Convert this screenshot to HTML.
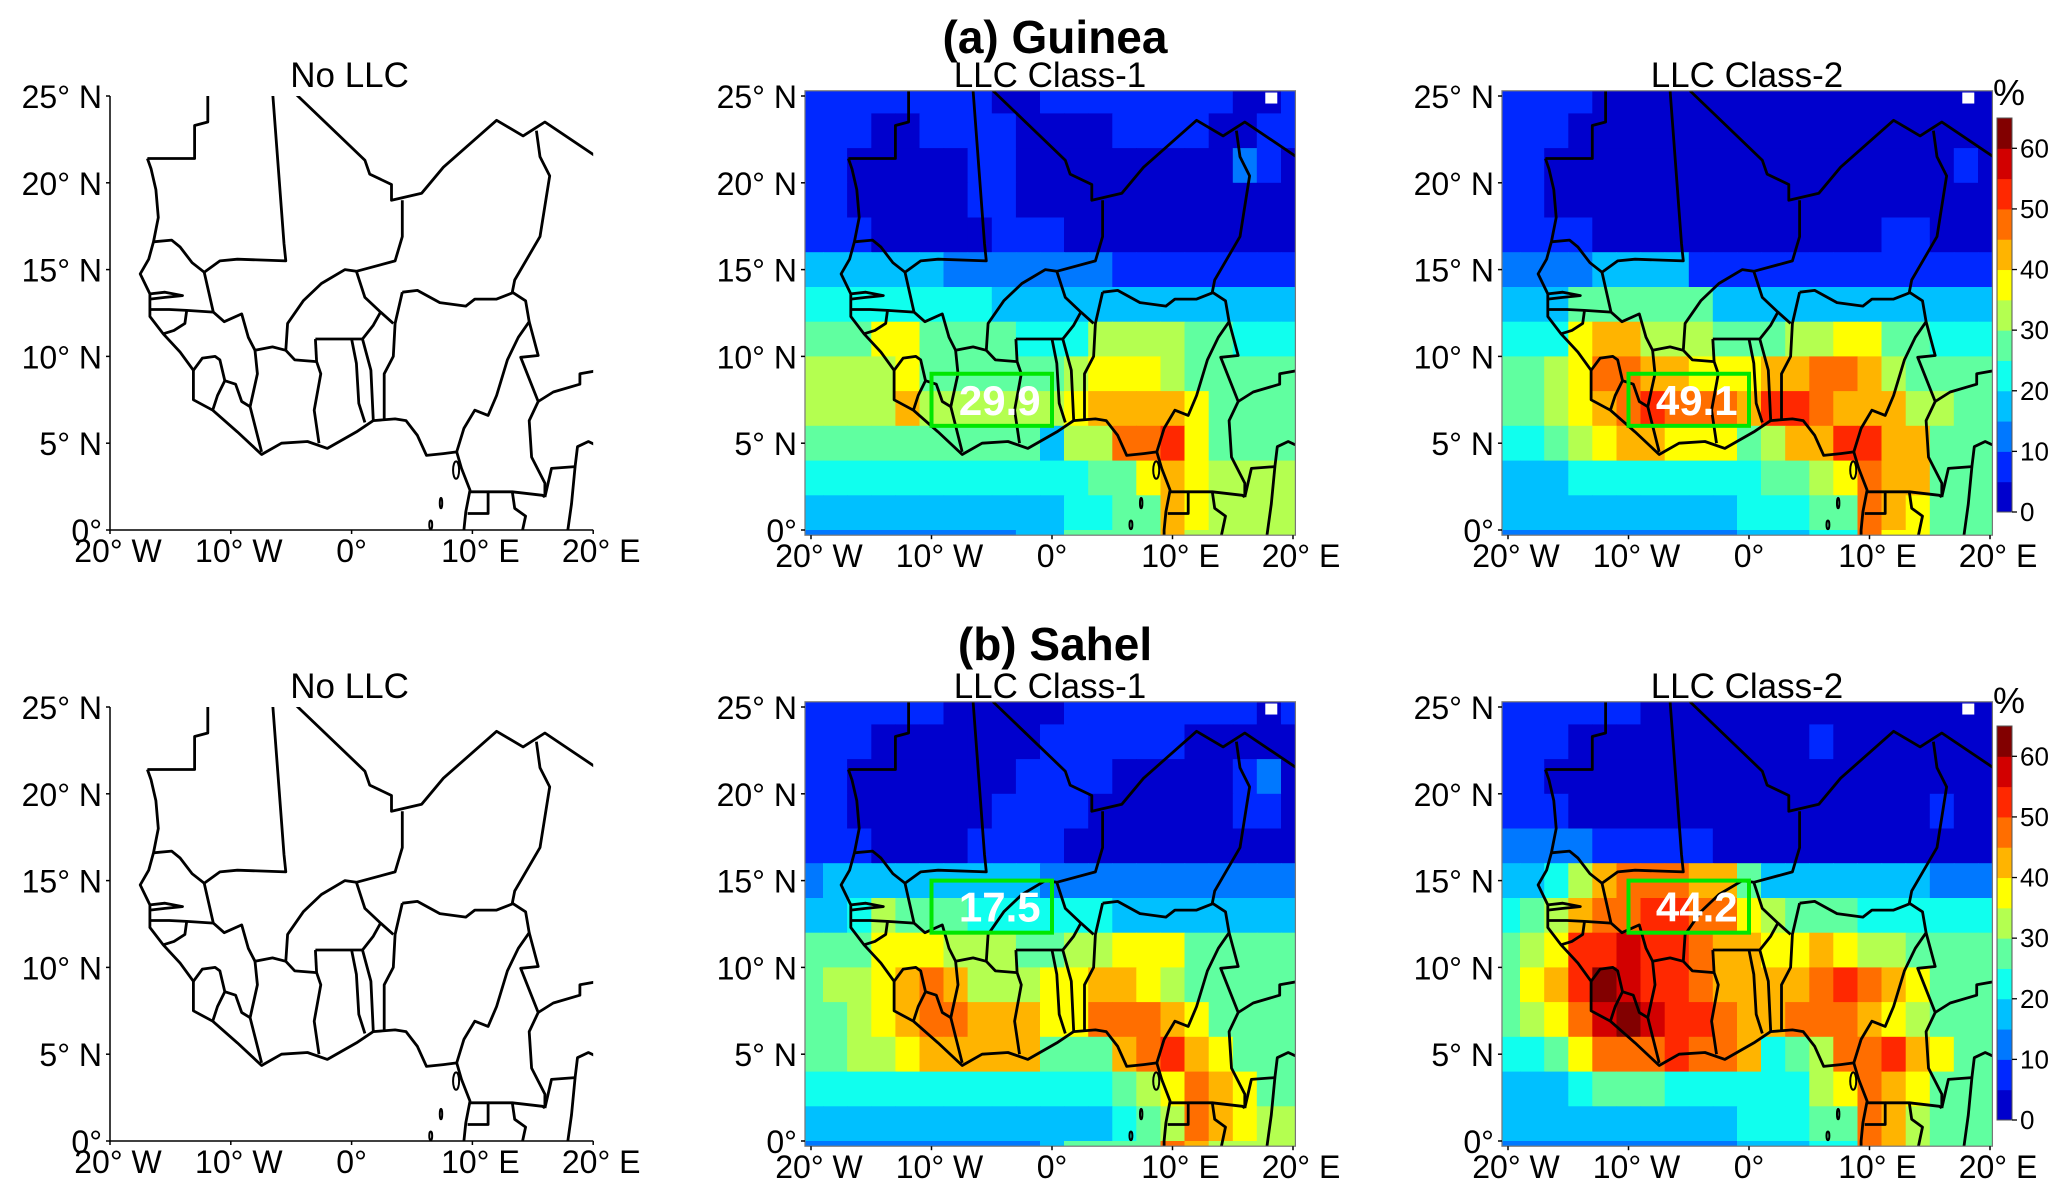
<!DOCTYPE html>
<html><head><meta charset="utf-8"><style>
html,body{margin:0;padding:0;background:#fff;}
svg{display:block;font-family:"Liberation Sans",Arial,sans-serif;}
</style></head><body>
<svg id="fig" width="2067" height="1194" viewBox="0 0 2067 1194" xmlns="http://www.w3.org/2000/svg"></svg>
<script>
// ---- data ----
// Level codes per 2-degree cell (rows north->south, lat bands 24-26 ... -2-0; cols lon -20..20 step 2)
// code k => value k*5+2.5 (%)
const lonCenters=[-20,-18,-16,-14,-12,-10,-8,-6,-4,-2,0,2,4,6,8,10,12,14,16,18,20];
const latTops=[26,24,22,20,18,16,14,12,10,8,6,4,2,0];
const guineaClass1=[
"111111110011111111001",
"111001111000011110011",
"110000011000000000210",
"110000011000000000000",
"111000001110000000000",
"333333222222211111111",
"444444443333333333333",
"555775555444666655444",
"666675555556777655555",
"666686666667888875555",
"555555555536699a75555",
"444444444444557876666",
"333333333334455876666",
"222222222335555866666"];
const guineaClass2=[
"111100000000000000000",
"111000000000000000000",
"110000000000000000010",
"110000000000000000000",
"111100000000000011000",
"222233331111111111111",
"333555555333333333333",
"444788666555667755444",
"556799887778899865555",
"556789a9998aa98886655",
"44567887775688aa88555",
"333444444445567988555",
"333333333344455987555",
"222222222233344977555"];
const sahelClass1=[
"111111000001111111101",
"111000000011111100000",
"110000000111100000120",
"110000001111000000110",
"111000011110000000000",
"233333333322222222222",
"334655544444433333333",
"555777666556677755555",
"566789866677887655555",
"556789988877999875555",
"556678888855589a87555",
"444444444444456798755",
"333333333333345698766",
"222222222235555986666"];
const sahelClass2=[
"111111000000000000000",
"111000000000010000000",
"110000000000000000000",
"111000000000000000100",
"222211111000000000000",
"334689998853333333222",
"456899aa99765554444444",
"567aabaa9887787665555",
"578acbaa988889a987555",
"5679bcbaa988999876555",
"4457999a99845699a8755",
"333455544444467987555",
"333333333344455986555",
"222222222233344986555"];
const cbTicks=[0,10,20,30,40,50,60];
const cbLevels=[0,5,10,15,20,25,30,35,40,45,50,55,60];
const palette=["#0000cd","#0028ff","#0078ff","#00c0ff","#10ffee","#60ffa0","#b4ff50","#ffff00","#ffb400","#ff6e00","#ff2800","#d20000","#820000"];
const boxValues=["29.9","49.1","17.5","44.2"];
const boxes=[[-10,0,6,9],[-10,0,6,9],[-10,0,12,15],[-10,0,12,15]];

// ---- geography (lon,lat) ----
const borders=[
[[-11.9,25.3],[-11.9,23.5],[-13,23.3],[-13,21.4],[-16.9,21.4]],
[[-16.9,21.4],[-16.6,20.8],[-16.2,19.6],[-16,18],[-16.4,16.6],[-16.8,15.6],[-17.5,14.75],[-16.7,13.6],[-16.7,12.3],[-15.6,11.3],[-14.2,10.25],[-13.1,9.2],[-13.1,7.5],[-11.5,6.9],[-9.45,5.65],[-7.45,4.35],[-5.8,5.0],[-3.65,5.1],[-2,4.7],[0.4,5.65],[1.8,6.3],[3.6,6.4],[4.5,6.3],[5.45,5.45],[6.2,4.3],[7.6,4.4],[8.7,4.5],[9.1,3.55],[9.8,2.3],[9.45,1.05],[9.3,0],[9.3,-0.5]],
[[-6.55,25.3],[-5.6,16.5],[-5.45,15.5],[-9.45,15.6],[-10.9,15.5],[-12.2,14.85]],
[[-16.4,16.6],[-14.9,16.7],[-14.2,16.3],[-13.2,15.4],[-12.2,14.85]],
[[-4.9,25.3],[1.1,21.3],[1.5,20.5],[3.3,19.9],[3.3,19.0],[5.8,19.4],[7.6,20.9],[12,23.6],[14.2,22.7],[16,23.5],[20.5,21.4]],
[[15.3,23.0],[15.6,21.5],[16.4,20.4],[15.6,16.9],[13.5,14.4],[13.3,13.7]],
[[4.2,19.0],[4.2,16.9],[3.6,15.5],[0.4,14.9]],
[[0.4,14.9],[-0.55,15.0],[-2.5,14.2],[-4,13.2],[-5.3,11.9],[-5.45,10.35],[-4.7,9.8],[-2.9,9.7]],
[[-12.2,14.85],[-11.45,12.55],[-10.55,12.0],[-9.1,12.45],[-8.55,11.1],[-8,10.35],[-6.55,10.55],[-5.45,10.35]],
[[0.4,14.9],[1.1,13.4],[2.4,12.55],[3.45,11.9]],
[[4.2,13.7],[5.45,13.8],[7.3,13.1],[9.45,12.9],[10.2,13.3],[12,13.3],[13.45,13.7]],
[[4.2,13.7],[3.6,11.9],[3.45,10],[2.7,9],[2.7,6.4]],
[[2.4,12.55],[1.8,11.8],[0.9,11],[1.6,9.2],[1.8,6.3]],
[[0,11],[0.4,9.6],[0.6,7.3],[1.1,6.2]],
[[-3,11],[0,11],[0.9,11]],
[[-2.9,9.7],[-3,11]],
[[-2.9,9.7],[-2.55,9],[-3.1,6.9],[-2.7,5.0]],
[[-8,10.35],[-7.8,9],[-8.4,7.1],[-7.45,4.5]],
[[-8.4,7.1],[-9.1,7.4],[-9.6,8.4],[-10.5,8.6],[-10.9,9.8],[-11.3,10.0],[-12.35,9.9],[-13.1,9.2]],
[[-10.5,8.6],[-11.1,7.75],[-11.5,6.9]],
[[8.7,4.5],[9.3,5.85],[10.2,6.9],[11.3,6.6],[12,7.75],[12.9,9.8],[13.8,11.1],[14.7,12.0],[14.4,13.2],[13.3,13.7]],
[[14.7,12.0],[15.45,10.05],[14,9.95],[15.45,7.4],[14.7,6.3],[14.9,4.2],[16,2.7],[16,1.9]],
[[15.45,7.4],[16.7,7.95],[18.9,8.4],[18.9,9.0],[20.5,9.2]],
[[16,1.9],[16.55,3.55],[18.5,3.65],[18.7,4.8],[19.6,5.1],[20.2,4.9]],
[[18.5,3.65],[18.2,1.5],[17.8,-0.5]],
[[9.8,2.2],[11.3,2.2],[11.3,0.95],[9.6,0.95]],
[[11.3,2.2],[13.3,2.2],[15.8,2.0],[16,1.9]],
[[13.3,2.2],[13.5,1.25],[14.4,0.8],[14,-0.5]],
[[-16.7,13.6],[-15.45,13.7],[-14,13.5],[-15.45,13.4],[-16.7,13.3]],
[[-16.7,12.7],[-15.1,12.7],[-13.65,12.65],[-11.45,12.55]],
[[-13.65,12.65],[-13.8,11.9],[-14.7,11.5],[-15.6,11.3]]
];
const islands=[[8.65,3.45,0.25,0.5],[7.4,1.55,0.1,0.3],[6.55,0.3,0.12,0.25]];

// ---- layout ----
const NS="http://www.w3.org/2000/svg";
const svg=document.getElementById('fig');
function el(tag,attrs,parent){const e=document.createElementNS(NS,tag);for(const k in attrs)e.setAttribute(k,attrs[k]);(parent||svg).appendChild(e);return e;}
function txt(s,attrs,parent){const e=el('text',attrs,parent);e.textContent=s;return e;}

const rows=[{y0:530,ppy:17.36,title:"(a) Guinea",ty:53},{y0:1141,ppy:17.36,title:"(b) Sahel",ty:660}];
const cols=[{x20:110,ppx:12.08,sub:"No LLC"},{x20:811,ppx:12.05,sub:"LLC Class-1"},{x20:1508,ppx:12.05,sub:"LLC Class-2"}];
const grids=[[guineaClass1,guineaClass2],[sahelClass1,sahelClass2]];
function levelValue(ch){return parseInt(ch,16)*5+2.5;}
function colorOf(v){let k=Math.floor(v/5);if(k<0)k=0;if(k>12)k=12;return palette[k];}

rows.forEach((R,ri)=>{
  const t=txt(R.title,{x:1055,y:R.ty,'text-anchor':'middle','font-size':46,'font-weight':'bold'});
  
  
  cols.forEach((C,ci)=>{
    const X=lon=>C.x20+(lon+20)*C.ppx;
    const Y=lat=>R.y0-lat*R.ppy;
    const g=el('g',{});
    
    
    const sub=txt(C.sub,{x:X(0)-2,y:Y(25)-9,'text-anchor':'middle','font-size':35},g);
    
    
    let left,right,top,bottom;
    if(ci===0){left=X(-20);right=X(20);top=Y(25);bottom=Y(0);}
    else{left=X(-20.5);right=X(20.2);top=Y(25.3);bottom=Y(-0.3);}
    const cid='clip'+ri+ci;
    const cp=el('clipPath',{id:cid},g);el('rect',{x:left,y:top,width:right-left,height:bottom-top},cp);
    const inner=el('g',{'clip-path':'url(#'+cid+')'},g);
    if(ci>0){
      const data=grids[ri][ci-1];
      data.forEach((row,j)=>{
        for(let i=0;i<lonCenters.length;i++){
          const v=levelValue(row[i]||'0');
          const x1=X(lonCenters[i]-1),x2=X(lonCenters[i]+1);
          const y1=Y(latTops[j]),y2=Y(latTops[j]-2);
          const r=el('rect',{x:x1.toFixed(1),y:y1.toFixed(1),width:(x2-x1+0.6).toFixed(1),height:(y2-y1+0.6).toFixed(1),fill:colorOf(v)},inner);
          
          
        }
      });
      const ws=el('rect',{x:X(17.7),y:Y(25.2),width:12,height:11,fill:'#fff'},inner);
      
      
    }
    borders.forEach(line=>{
      const d=line.map((p,k)=>(k?'L':'M')+X(p[0]).toFixed(1)+' '+Y(p[1]).toFixed(1)).join(' ');
      const p=el('path',{d:d,fill:'none',stroke:'#000','stroke-width':2.8,'stroke-linejoin':'round'},inner);
      
      
    });
    islands.forEach(s=>{
      const e=el('ellipse',{cx:X(s[0]),cy:Y(s[1]),rx:s[2]*C.ppx,ry:s[3]*R.ppy,fill:'none',stroke:'#000','stroke-width':2},inner);
      
      
    });
    if(ci>0){
      const fr=el('rect',{x:left,y:top,width:right-left,height:bottom-top,fill:'none',stroke:'#777','stroke-width':1.2},g);
      
      
      const b=boxes[ri*2+ci-1];
      const bx=el('rect',{x:X(b[0]),y:Y(b[3]),width:X(b[1])-X(b[0]),height:Y(b[2])-Y(b[3]),fill:'none',stroke:'#00e600','stroke-width':4},g);
      
      
      const bt=txt(boxValues[ri*2+ci-1],{x:(X(b[0])+X(b[1]))/2+8,y:(Y(b[2])+Y(b[3]))/2+15,'text-anchor':'middle','font-size':42,'font-weight':'bold',fill:'#fff'},g);
      
      
    } else {
      const ax=el('path',{d:`M${left} ${top} L${left} ${bottom} L${right} ${bottom}`,fill:'none',stroke:'#000','stroke-width':1.5},g);
      
      
    }
    [0,5,10,15,20,25].forEach(lat=>{
      el('line',{x1:left-4,x2:left,y1:Y(lat),y2:Y(lat),stroke:'#000','stroke-width':1.5},g);
      const l=txt(lat===0?'0°':lat+'° N',{x:left-8,y:Y(lat)+12,'text-anchor':'end','font-size':32},g);
      
      
    });
    [-20,-10,0,10,20].forEach(lon=>{
      el('line',{x1:X(lon),x2:X(lon),y1:bottom,y2:bottom+4,stroke:'#000','stroke-width':1.5},g);
      const s=lon<0?(-lon)+'° W':lon>0?lon+'° E':'0°';
      const l=txt(s,{x:X(lon)+(lon===0?0:8),y:bottom+32,'text-anchor':'middle','font-size':32},g);
      
      
    });
  });
  // colorbar
  const cb=el('g',{});
  
  
  const cbTop=ri===0?118:726, cbBot=ri===0?512:1120, cbX=1997, cbW=15;
  const cy=v=>cbBot-(v/65)*(cbBot-cbTop);
  cbLevels.forEach(v=>{
    const r=el('rect',{x:cbX,y:cy(v+5),width:cbW,height:cy(v)-cy(v+5)+0.5,fill:colorOf(v+2.5)},cb);
    
    
  });
  el('rect',{x:cbX,y:cbTop,width:cbW,height:cbBot-cbTop,fill:'none',stroke:'#555','stroke-width':1},cb);
  cbTicks.forEach(v=>{
    el('line',{x1:cbX+cbW,x2:cbX+cbW+5,y1:cy(v),y2:cy(v),stroke:'#000','stroke-width':1.3},cb);
    const l=txt(String(v),{x:cbX+cbW+8,y:cy(v)+9,'font-size':26},cb);
    
    
  });
  const pc=txt('%',{x:2009,y:cbTop-13,'text-anchor':'middle','font-size':36},cb);
  
  
});
</script>
</body></html>
